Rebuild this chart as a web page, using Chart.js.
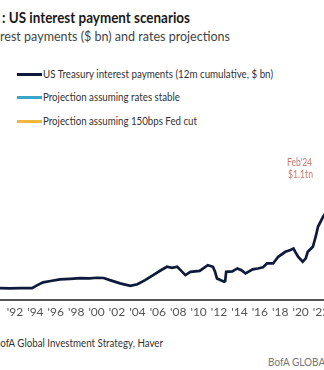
<!DOCTYPE html>
<html>
<head>
<meta charset="utf-8">
<script src="https://cdn.jsdelivr.net/npm/chart.js@4/dist/chart.umd.min.js"></script>
<style>
  html, body { margin: 0; padding: 0; background: #fff; }
  body { width: 324px; height: 370px; overflow: hidden; position: relative; font-family: Lato, "Open Sans", sans-serif; }
  .t { position: absolute; white-space: nowrap; transform-origin: 0 50%; }
  .sw { position: absolute; height: 3px; width: 25px; left: 17px; }
  #wrap { position: absolute; left: 0; top: 130px; width: 324px; height: 196px; }
</style>
</head>
<body>
<div class="t" id="title" style="left:2px; top:8px; font-size:15.5px; line-height:18px; font-weight:700; color:#1a1a1a;">: US interest payment scenarios</div>
<div class="t" id="sub" style="left:0px; top:27px; font-size:14px; line-height:18px; color:#444;">rest payments ($ bn) and rates projections</div>

<div class="sw" style="top:73px; background:#0e1a3c;"></div>
<div class="sw" style="top:96px; background:#3ba7c8;"></div>
<div class="sw" style="top:120px; background:#f1b73f;"></div>
<div class="t" id="lg1" style="left:43px; top:67px; font-size:12px; line-height:14px; color:#333;">US Treasury interest payments (12m cumulative, $ bn)</div>
<div class="t" id="lg2" style="left:43px; top:90px; font-size:12px; line-height:14px; color:#333;">Projection assuming rates stable</div>
<div class="t" id="lg3" style="left:43px; top:114px; font-size:12px; line-height:14px; color:#333;">Projection assuming 150bps Fed cut</div>

<div id="wrap"><canvas id="c" width="324" height="196"></canvas></div>

<div class="t" id="an1" style="left:287px; top:155px; font-size:11.5px; line-height:13px; color:#c47a6d;">Feb'24</div>
<div class="t" id="an2" style="left:288px; top:167px; font-size:11.5px; line-height:13px; color:#c47a6d;">$1.1tn</div>

<div class="t" id="src" style="left:-6px; top:336px; font-size:12px; line-height:14px; color:#333;">BofA Global Investment Strategy, Haver</div>
<div class="t" id="brand" style="left:268px; top:355px; font-size:12px; line-height:14px; color:#777;">BofA GLOBAL RESEARCH</div>

<script>
// ---- data ----
const histYears = [1990.53, 1991.5, 1992.5, 1993.67, 1994.2, 1994.75, 1995.5, 1996.4, 1997.4, 1998.4, 1999.3, 2000.04, 2000.7, 2001.3, 2002.3, 2003.3, 2004.0, 2004.75, 2005.7,
  2006.3, 2006.9, 2007.4, 2007.9, 2008.3, 2008.7, 2009.2, 2010.1, 2010.9, 2011.4, 2011.6, 2011.8, 2012.5, 2012.6, 2012.7,
  2013.3, 2013.8, 2014.2, 2014.6, 2015.3, 2015.8, 2016.3, 2016.7, 2017.3, 2017.8, 2018.5, 2019.0, 2019.3, 2019.5, 2019.75,
  2020.2, 2020.5, 2020.7, 2021.2, 2021.5, 2021.7, 2022.2, 2023.0, 2024.1];
const histValues = [260, 258, 260, 260, 285, 308, 320, 333, 338, 344, 342, 347, 345, 327, 300, 279, 292, 327, 378,
  410, 439, 430, 439, 405, 369, 397, 405, 453, 439, 400, 341, 313, 318, 397,
  400, 425, 410, 383, 417, 425, 434, 467, 467, 523, 565, 580, 593, 560, 523,
  481, 510, 565, 607, 700, 775, 859, 960, 1100];
const stableYears = [2024.1, 2024.6, 2025.1];
const stableValues = [1100, 1250, 1380];
const cutYears = [2024.1, 2024.6, 2025.1];
const cutValues = [1100, 1200, 1250];
const tickYears = [1992, 1994, 1996, 1998, 2000, 2002, 2004, 2006, 2008, 2010, 2012, 2014, 2016, 2018, 2020, 2022];
const tickLabels = ["'92", "'94", "'96", "'98", "'00", "'02", "'04", "'06", "'08", "'10", "'12", "'14", "'16", "'18", "'20", "'22"];

const pts = (xs, ys) => xs.map((x, i) => ({ x: x, y: ys[i] }));

new Chart(document.getElementById('c'), {
  type: 'line',
  data: {
    datasets: [
      { label: 'US Treasury interest payments (12m cumulative, $ bn)', data: pts(histYears, histValues),
        borderColor: '#0e1a3c', borderWidth: 2.7, pointRadius: 0, tension: 0 },
      { label: 'Projection assuming rates stable', data: pts(stableYears, stableValues),
        borderColor: '#3ba7c8', borderWidth: 2.7, pointRadius: 0, tension: 0 },
      { label: 'Projection assuming 150bps Fed cut', data: pts(cutYears, cutValues),
        borderColor: '#f1b73f', borderWidth: 2.7, pointRadius: 0, tension: 0 }
    ]
  },
  options: {
    responsive: false,
    animation: false,
    layout: { padding: 0 },
    plugins: { legend: { display: false }, tooltip: { enabled: false } },
    scales: {
      x: {
        type: 'linear', min: 1990.53, max: 2022.29,
        afterBuildTicks: s => { s.ticks = tickYears.map(v => ({ value: v })); },
        afterFit: s => { s.height = 26; s.paddingLeft = 0; s.paddingRight = 0; },
        ticks: {
          autoSkip: false, maxRotation: 0, padding: 5, color: '#555',
          font: { family: 'Lato', size: 12 },
          callback: v => { const i = tickYears.indexOf(v); return i >= 0 ? tickLabels[i] : ''; }
        },
        grid: { display: false, drawTicks: false },
        border: { display: true, color: '#555', width: 2 }
      },
      y: { display: false, min: 160, max: 1588 }
    }
  }
});

function fit(id, w) {
  const el = document.getElementById(id);
  const cw = el.getBoundingClientRect().width;
  el.style.transform = 'scaleX(' + (w / cw) + ')';
}
fit('title', 188);
fit('sub', 230);
fit('lg1', 230);
fit('lg2', 137);
fit('lg3', 154);
fit('src', 169);
fit('an1', 25);
fit('an2', 25);
fit('brand', 115);
</script>
</body>
</html>
